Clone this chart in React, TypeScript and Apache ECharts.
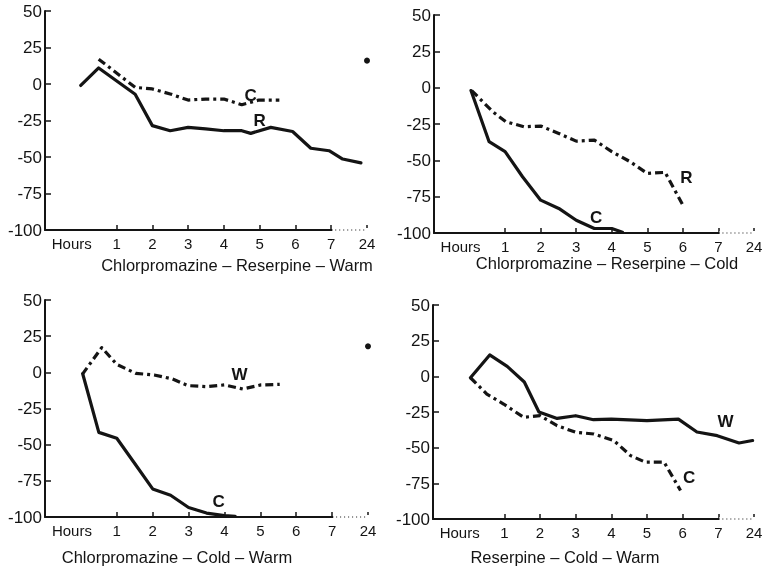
import React, { useEffect, useRef } from "react";
import * as echarts from "echarts";

// x values are in axis units: 0..7 = hours, 8 = the "24" hour position after the dotted break
const xLabelValues = [0, 1, 2, 3, 4, 5, 6, 7, 8];
const xLabelTexts = ["Hours", "1", "2", "3", "4", "5", "6", "7", "24"];
const xTickValues = [1, 2, 3, 4, 5, 6, 7, 8];
const xAxisSolidSpan = [-1, 7];
const xAxisBreakSpan = [7, 8];

const panelTitles = [
  "Chlorpromazine – Reserpine – Warm",
  "Chlorpromazine – Reserpine – Cold",
  "Chlorpromazine – Cold – Warm",
  "Reserpine – Cold – Warm",
];

// Panel 1: Chlorpromazine - Reserpine - Warm
const p1Solid = [
  [0, -1], [0.5, 11], [1.52, -7], [2, -28.5], [2.5, -32], [3, -29.7], [3.49, -30.8],
  [4, -32], [4.5, -32], [4.75, -33.8], [5.31, -29.7], [5.92, -32.5], [6.43, -44],
  [6.94, -45.7], [7.32, -51.4], [7.83, -54],
];
const p1Dash = [
  [0.5, 17], [1.52, -2.3], [2, -3.4], [2.5, -6.8], [3, -11], [3.49, -10.3], [4, -10.3],
  [4.5, -14.2], [4.98, -11], [5.55, -11],
];
const p1Dot24 = [[8, 16]];
const p1Labels = [
  { name: "C", value: [4.75, -8] },
  { name: "R", value: [5.0, -25] },
];

// Panel 2: Chlorpromazine - Reserpine - Cold
const p2Solid = [
  [0.04, -2], [0.55, -37.2], [1, -44], [1.49, -61.3], [2, -77.4], [2.51, -83.1],
  [3, -91.2], [3.51, -96.9], [4, -96.9], [4.3, -99.5],
];
const p2Dash = [
  [0.06, -2], [0.65, -16.5], [1.02, -23.4], [1.53, -26.9], [2, -26.4], [2.51, -31.5],
  [3, -36.8], [3.51, -36.1], [4, -44], [4.52, -51], [5, -59], [5.5, -58.3], [6, -80.8],
];
const p2Labels = [
  { name: "C", value: [3.56, -89] },
  { name: "R", value: [6.1, -62] },
];

// Panel 3: Chlorpromazine - Cold - Warm
const p3Solid = [
  [0.05, -1], [0.5, -41.5], [1, -45.6], [1.5, -63], [2, -80.6], [2.5, -85], [3, -93.4],
  [3.5, -97.3], [4, -99], [4.3, -99.5],
];
const p3Dash = [
  [0.04, -1.4], [0.58, 17.1], [1, 5.5], [1.53, -0.7], [2.04, -1.8], [2.55, -4.6],
  [2.98, -9.2], [3.5, -9.9], [4, -8.7], [4.51, -11.5], [5.02, -8.7], [5.54, -8.3],
];
const p3Dot24 = [[8, 18]];
const p3Labels = [
  { name: "C", value: [3.84, -89] },
  { name: "W", value: [4.42, -1.8] },
];

// Panel 4: Reserpine - Cold - Warm
const p4Solid = [
  [0.05, -1], [0.59, 15], [1.08, 7], [1.56, -4], [1.97, -25], [2.48, -29.5], [3, -27.6],
  [3.5, -30.4], [4, -30], [5, -31], [5.88, -30], [6.4, -39], [6.97, -41.6], [7.58, -46.7],
  [7.96, -45],
];
const p4Dash = [
  [0.05, -1], [0.51, -12.4], [0.98, -19.4], [1.54, -28.7], [2, -27.6], [2.48, -34.6],
  [3, -39.2], [3.51, -40.4], [4.07, -45], [4.54, -55.6], [4.96, -60.2], [5.48, -60.2],
  [5.94, -80],
];
const p4Labels = [
  { name: "W", value: [7.2, -32] },
  { name: "C", value: [6.18, -70.7] },
];

const panels = [
  { solid: p1Solid, dash: p1Dash, dot24: p1Dot24, labels: p1Labels },
  { solid: p2Solid, dash: p2Dash, dot24: [], labels: p2Labels },
  { solid: p3Solid, dash: p3Dash, dot24: p3Dot24, labels: p3Labels },
  { solid: p4Solid, dash: p4Dash, dot24: [], labels: p4Labels },
];

// layout (pixels)
const gridBoxes = [
  { left: 45, top: 11, width: 322, height: 219 },
  { left: 434, top: 15, width: 320, height: 218 },
  { left: 45, top: 300, width: 323, height: 217 },
  { left: 433, top: 305, width: 321, height: 214 },
];
const titlePos = [
  [237, 265],
  [607, 263],
  [177, 557],
  [565, 557],
];

const INK = "#141414";
const FONT = "Liberation Sans";

export default function App() {
  const ref = useRef<HTMLDivElement>(null);
  useEffect(() => {
    if (!ref.current) return;
    const chart = echarts.init(ref.current, undefined, { renderer: "svg" });

    const xAxis = gridBoxes.map((_, i) => ({
      type: "value",
      gridIndex: i,
      min: -1,
      max: 8,
      interval: 1,
      splitLine: { show: false },
      axisLine: { show: true, onZero: false, lineStyle: { color: INK, width: 2 } },
      axisTick: {
        show: true,
        inside: true,
        length: 5,
        customValues: xTickValues,
        lineStyle: { color: INK, width: 1.5 },
      },
      axisLabel: {
        customValues: xLabelValues,
        margin: 6,
        color: INK,
        fontSize: 15,
        fontFamily: FONT,
        formatter: (v: number) => {
          const k = xLabelValues.indexOf(Math.round(v));
          return k === 0 ? "{h|" + xLabelTexts[0] + "}" : k >= 0 ? xLabelTexts[k] : "";
        },
        rich: { h: { padding: [0, 18, 0, 0], fontSize: 15, fontFamily: FONT, color: INK } },
      },
    }));
    const yAxis = gridBoxes.map((_, i) => ({
      type: "value",
      gridIndex: i,
      min: -100,
      max: 50,
      interval: 25,
      splitLine: { show: false },
      axisLine: { show: true, onZero: false, lineStyle: { color: INK, width: 2 } },
      axisTick: { show: true, inside: true, length: 6, lineStyle: { color: INK, width: 1.5 } },
      axisLabel: { margin: 3, color: INK, fontSize: 17, fontFamily: FONT },
    }));

    const series: any[] = [];
    panels.forEach((p, i) => {
      const base = { xAxisIndex: i, yAxisIndex: i };
      // solid part of the hour axis, drawn again as a series so it is surely visible
      series.push({
        ...base,
        type: "line",
        data: xAxisSolidSpan.map((x) => [x, -100]),
        showSymbol: false,
        clip: false,
        z: 10,
        lineStyle: { color: INK, width: 2 },
      });
      // blank out the axis line over the 7 → 24 break, then draw it dotted
      series.push({
        ...base,
        type: "line",
        data: xAxisBreakSpan.map((x) => [x + 0.03, -100]),
        showSymbol: false,
        clip: false,
        z: 10,
        lineStyle: { color: "#ffffff", width: 4 },
      });
      series.push({
        ...base,
        type: "line",
        data: xAxisBreakSpan.map((x) => [x, -100]),
        showSymbol: false,
        clip: false,
        z: 11,
        lineStyle: { color: INK, width: 1.2, type: [1, 3] },
      });
      series.push({
        ...base,
        type: "line",
        data: p.solid,
        showSymbol: false,
        clip: false,
        z: 12,
        lineStyle: { color: INK, width: 3.2, cap: "round", join: "round" },
      });
      series.push({
        ...base,
        type: "line",
        data: p.dash,
        showSymbol: false,
        clip: false,
        z: 12,
        lineStyle: { color: INK, width: 3.2, type: [8, 4, 3, 4], join: "round" },
      });
      if (p.dot24.length) {
        series.push({
          ...base,
          type: "scatter",
          data: p.dot24,
          symbol: "circle",
          symbolSize: 6,
          z: 12,
          itemStyle: { color: INK, opacity: 1 },
        });
      }
      series.push({
        ...base,
        type: "scatter",
        data: p.labels,
        symbolSize: 1,
        z: 13,
        itemStyle: { color: "rgba(0,0,0,0)", opacity: 1 },
        label: {
          show: true,
          position: "inside",
          formatter: "{b}",
          color: INK,
          fontSize: 17,
          fontWeight: "bold",
          fontFamily: FONT,
        },
      });
    });

    const graphic = panelTitles.map((t, i) => ({
      type: "text",
      x: titlePos[i][0],
      y: titlePos[i][1],
      z: 20,
      style: {
        text: t,
        fill: INK,
        fontSize: 16.5,
        fontFamily: FONT,
        textAlign: "center",
        textVerticalAlign: "middle",
      },
    }));

    chart.setOption({
      animation: false,
      grid: gridBoxes,
      xAxis,
      yAxis,
      series,
      graphic,
    });
    return () => chart.dispose();
  }, []);
  return (
    <div ref={ref} style={{ position: "fixed", left: 0, top: 0, width: 774, height: 569 }} />
  );
}
